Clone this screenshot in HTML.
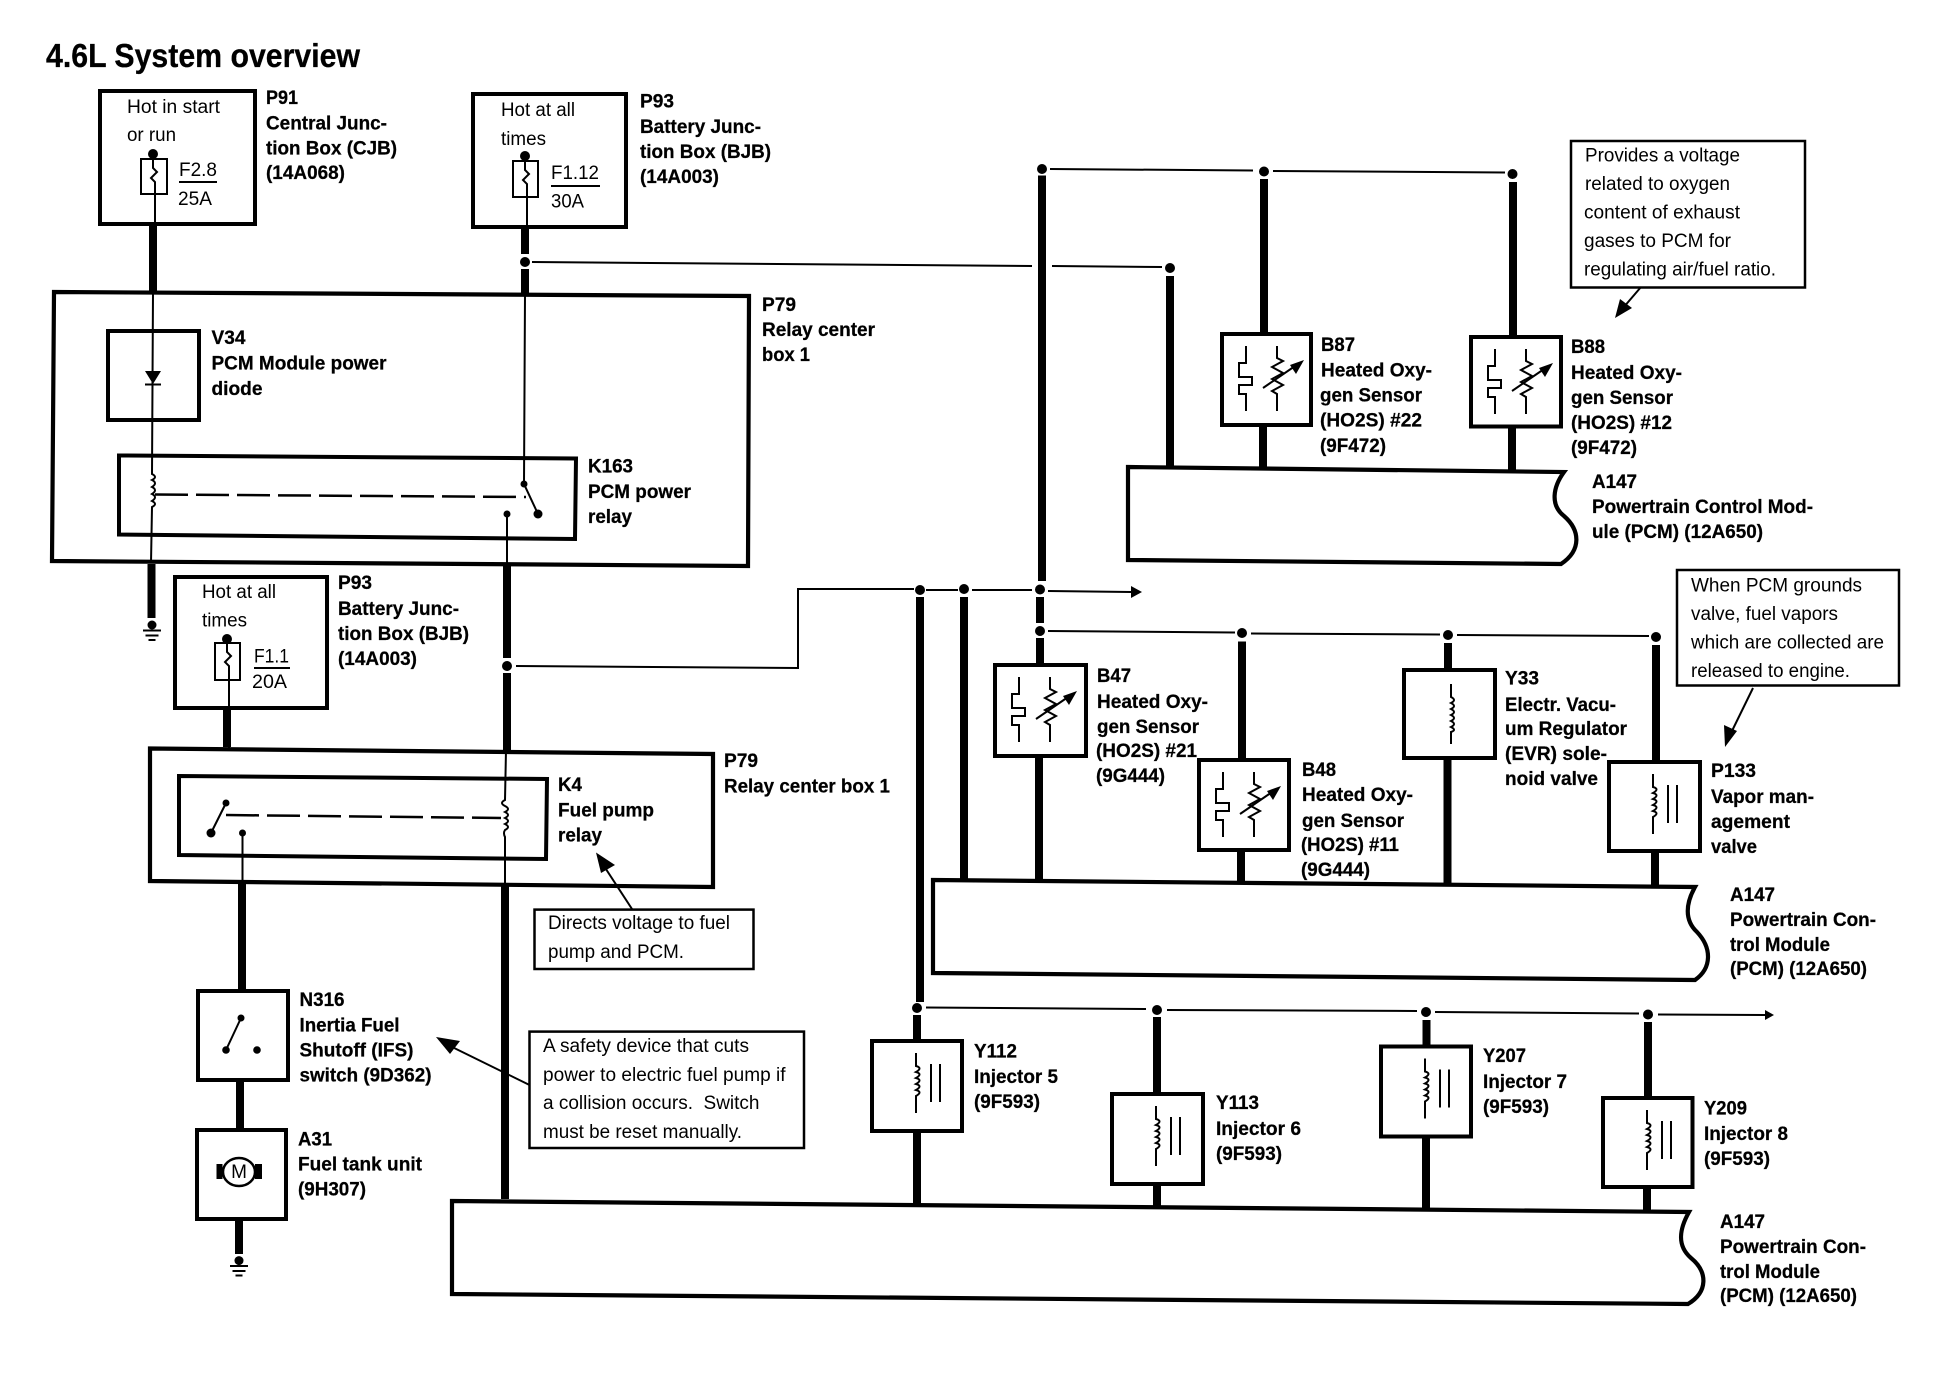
<!DOCTYPE html>
<html lang="en">
<head>
<meta charset="utf-8">
<title>4.6L System overview</title>
<style>
html,body{margin:0;padding:0;background:#fff;}
svg{display:block;}
text{font-family:"Liberation Sans",sans-serif;fill:#000;}
.b{font-size:19px;font-weight:bold;stroke:#000;stroke-width:.25;}
.r{font-size:19px;}
.t{fill:none;stroke:#000;stroke-width:2;}
.w{fill:none;stroke:#000;stroke-width:8;}
.x{fill:#fff;stroke:#000;stroke-width:4;}
.n{fill:#fff;stroke:#000;stroke-width:2.5;}
.m{fill:#fff;stroke:#000;stroke-width:4.2;}
</style>
</head>
<body>
<svg width="1940" height="1376" viewBox="0 0 1940 1376" xmlns="http://www.w3.org/2000/svg">
<defs>
<g id="sensor">
<path class="t" d="M24 12V29H17V43H30V51H17V60H24V77"/>
<path class="t" d="M55 12V24l6 3l-11 6l11 6l-11 6l11 6l-11 6l5 3V77"/>
<path class="t" d="M41 54L76 30" stroke-width="2.5"/>
<path d="M82 26L68 31L74 40Z"/>
</g>
<g id="inj">
<path class="t" d="M44 12V25q7 2 0 6q7 2 0 6q7 2 0 6q7 2 0 6q7 2 0 6V72"/>
<path class="t" d="M59 23V61M68 23V61"/>
</g>
</defs>
<rect width="1940" height="1376" fill="#fff"/>

<text x="46" y="67" font-size="33" font-weight="bold" stroke="#000" stroke-width=".3" textLength="314" lengthAdjust="spacingAndGlyphs">4.6L System overview</text>

<!-- thick wires -->
<path class="w" d="M153 224V292M525 227V254M525 269V294M151.500 564V618M507 566V658M507 673V750M505 885V1199
M1170 276V467M1042 175.500V581M1264 179V334M1513 182V337M1263 425V467.500M1512 426V470
M1040 597V623M1040 638V665M1039 756V880M1242 641.500V760M1241 850V883M1448 643V670M1447.500 758V883M1656 645V762M1655 851V885
M920 597V1002M964 597V879M917 1015V1041M917 1131V1204
M1157 1017V1094M1157 1184V1208M1426.500 1020V1047M1426 1136V1209M1648 1022V1098M1647 1187V1211
M227 708V747M242 884V990M240 1080V1130M239 1219V1254"/>

<!-- P91 -->
<rect class="x" x="100" y="91" width="155" height="133"/>
<rect x="141" y="159" width="26" height="35" fill="#fff" stroke="#000" stroke-width="2"/>
<path class="t" d="M153 154V168l4 4l-6 6l4 4V224"/>
<circle cx="153" cy="154" r="5"/>
<path class="t" d="M179 182H217"/>
<text class="r" x="127" y="113" textLength="93" lengthAdjust="spacingAndGlyphs">Hot in start</text>
<text class="r" x="127" y="141" textLength="49" lengthAdjust="spacingAndGlyphs">or run</text>
<text class="r" x="179" y="176" textLength="38" lengthAdjust="spacingAndGlyphs">F2.8</text>
<text class="r" x="178" y="205" textLength="34" lengthAdjust="spacingAndGlyphs">25A</text>
<text class="b" x="266" y="104" textLength="32" lengthAdjust="spacingAndGlyphs">P91</text>
<text class="b" x="266" y="129.500" textLength="121" lengthAdjust="spacingAndGlyphs">Central Junc-</text>
<text class="b" x="266" y="154.500" textLength="131" lengthAdjust="spacingAndGlyphs">tion Box (CJB)</text>
<text class="b" x="266" y="179" textLength="79" lengthAdjust="spacingAndGlyphs">(14A068)</text>

<!-- P93 top -->
<rect class="x" x="473" y="94" width="153" height="133"/>
<rect x="513" y="161" width="25" height="36" fill="#fff" stroke="#000" stroke-width="2"/>
<path class="t" d="M525 156V170l4 4l-6 6l4 4V227"/>
<circle cx="525" cy="156" r="5"/>
<path class="t" d="M551 186H600"/>
<text class="r" x="501" y="116" textLength="74" lengthAdjust="spacingAndGlyphs">Hot at all</text>
<text class="r" x="501" y="145" textLength="45" lengthAdjust="spacingAndGlyphs">times</text>
<text class="r" x="551" y="179" textLength="48" lengthAdjust="spacingAndGlyphs">F1.12</text>
<text class="r" x="551" y="207.500" textLength="33" lengthAdjust="spacingAndGlyphs">30A</text>
<text class="b" x="640" y="107.500" textLength="34" lengthAdjust="spacingAndGlyphs">P93</text>
<text class="b" x="640" y="133" textLength="121" lengthAdjust="spacingAndGlyphs">Battery Junc-</text>
<text class="b" x="640" y="158" textLength="131" lengthAdjust="spacingAndGlyphs">tion Box (BJB)</text>
<text class="b" x="640" y="183" textLength="79" lengthAdjust="spacingAndGlyphs">(14A003)</text>
<circle cx="525" cy="262" r="5"/>
<path class="t" d="M532 262L1032 266M1052 266L1162 267"/>
<circle cx="1170" cy="268" r="5"/>

<!-- P79 upper -->
<path class="m" d="M54 292L749 296L748 566L52 561Z"/>
<text class="b" x="762" y="311" textLength="34" lengthAdjust="spacingAndGlyphs">P79</text>
<text class="b" x="762" y="336" textLength="113" lengthAdjust="spacingAndGlyphs">Relay center</text>
<text class="b" x="762" y="361" textLength="48" lengthAdjust="spacingAndGlyphs">box 1</text>
<rect class="x" x="108" y="331" width="91" height="89"/>
<path class="x" d="M119 455.500L576 458.500L575 539L119 534.500Z"/>
<path class="t" d="M153 292L152 474q6 3 0 6q6 3 0 7q6 3 0 7q6 3 0 7q6 3 0 6L151 563"/>
<path d="M145 371H161L153 384Z"/>
<path class="t" d="M145 384.500H161"/>
<path d="M155 494.500L526 497" fill="none" stroke="#000" stroke-width="2.500" stroke-dasharray="33 8"/>
<path class="t" d="M525 294L524 484L538 514" stroke-width="2.500"/>
<circle cx="524" cy="484" r="3.500"/>
<circle cx="538" cy="514" r="4.500"/>
<circle cx="507" cy="514" r="3.500"/>
<path class="t" d="M507 514V566"/>
<text class="b" x="211.500" y="344" textLength="34" lengthAdjust="spacingAndGlyphs">V34</text>
<text class="b" x="211.500" y="369.500" textLength="175" lengthAdjust="spacingAndGlyphs">PCM Module power</text>
<text class="b" x="211.500" y="395" textLength="51" lengthAdjust="spacingAndGlyphs">diode</text>
<text class="b" x="588" y="472.600" textLength="45" lengthAdjust="spacingAndGlyphs">K163</text>
<text class="b" x="588" y="498" textLength="103" lengthAdjust="spacingAndGlyphs">PCM power</text>
<text class="b" x="588" y="523" textLength="44" lengthAdjust="spacingAndGlyphs">relay</text>
<circle cx="152" cy="625" r="4.500"/>
<path class="t" d="M143 630.500H161M145.500 635.500H158.500M148.500 640H155.500" stroke-width="2.500"/>

<!-- P93 lower -->
<rect class="x" x="175" y="577" width="152" height="131"/>
<rect x="215" y="643" width="25" height="37" fill="#fff" stroke="#000" stroke-width="2"/>
<path class="t" d="M227 639V652l4 4l-6 6l4 4V748L226 803"/>
<circle cx="227" cy="639" r="5"/>
<path class="t" d="M254 668H290"/>
<text class="r" x="202" y="598" textLength="74" lengthAdjust="spacingAndGlyphs">Hot at all</text>
<text class="r" x="202" y="626.600" textLength="45" lengthAdjust="spacingAndGlyphs">times</text>
<text class="r" x="254" y="662.600" textLength="35" lengthAdjust="spacingAndGlyphs">F1.1</text>
<text class="r" x="252" y="688" textLength="35" lengthAdjust="spacingAndGlyphs">20A</text>
<text class="b" x="338" y="589" textLength="34" lengthAdjust="spacingAndGlyphs">P93</text>
<text class="b" x="338" y="615" textLength="121" lengthAdjust="spacingAndGlyphs">Battery Junc-</text>
<text class="b" x="338" y="640" textLength="131" lengthAdjust="spacingAndGlyphs">tion Box (BJB)</text>
<text class="b" x="338" y="665" textLength="79" lengthAdjust="spacingAndGlyphs">(14A003)</text>
<circle cx="507" cy="666" r="5"/>
<path class="t" d="M516 666L798 668V589H914M926 590H958M972 590H1032M1048 591L1131 592"/>
<circle cx="920" cy="590" r="5"/>
<circle cx="964" cy="589" r="5"/>
<circle cx="1040" cy="589.500" r="5"/>
<path d="M1131 586L1142 592L1131 598Z"/>

<!-- P79 lower / K4 -->
<path class="m" d="M150 748.500L713 754L713 887L150 881Z"/>
<path class="x" d="M179 776L547 779L546 859L179 855Z"/>
<path class="t" d="M226 803L211 833" stroke-width="2.500"/>
<circle cx="226" cy="803" r="3.500"/>
<circle cx="211" cy="833" r="4.500"/>
<circle cx="242.500" cy="833" r="3.500"/>
<path class="t" d="M242.500 833V885"/>
<path d="M226 815L501 818" fill="none" stroke="#000" stroke-width="2.500" stroke-dasharray="33 8"/>
<path class="t" d="M506 750L505 800q-6 3 0 6q6 3 0 6q6 3 0 6q6 3 0 6q6 3 0 6q-2 3 0 7L505 885"/>
<text class="b" x="724" y="767" textLength="34" lengthAdjust="spacingAndGlyphs">P79</text>
<text class="b" x="724" y="792.500" textLength="166" lengthAdjust="spacingAndGlyphs">Relay center box 1</text>
<text class="b" x="558" y="791" textLength="24" lengthAdjust="spacingAndGlyphs">K4</text>
<text class="b" x="558" y="816.500" textLength="96" lengthAdjust="spacingAndGlyphs">Fuel pump</text>
<text class="b" x="558" y="841.600" textLength="44" lengthAdjust="spacingAndGlyphs">relay</text>

<!-- Directs note -->
<rect class="n" x="534.500" y="909.600" width="219" height="59.400"/>
<text class="r" x="548" y="929" textLength="182" lengthAdjust="spacingAndGlyphs">Directs voltage to fuel</text>
<text class="r" x="548" y="958" textLength="136" lengthAdjust="spacingAndGlyphs">pump and PCM.</text>
<path class="t" d="M632 909L602 863"/>
<path d="M596 852.500L615 865L601 873Z"/>

<!-- N316 -->
<rect class="x" x="198" y="991" width="90" height="89"/>
<path class="t" d="M241 1018L226 1050" stroke-width="3"/>
<circle cx="241" cy="1018" r="3.500"/>
<circle cx="226" cy="1050" r="3.800"/>
<circle cx="257" cy="1050" r="3.800"/>
<text class="b" x="299.500" y="1006" textLength="45" lengthAdjust="spacingAndGlyphs">N316</text>
<text class="b" x="299.500" y="1031.600" textLength="100" lengthAdjust="spacingAndGlyphs">Inertia Fuel</text>
<text class="b" x="299.500" y="1056.600" textLength="114" lengthAdjust="spacingAndGlyphs">Shutoff (IFS)</text>
<text class="b" x="299.500" y="1081.600" textLength="132" lengthAdjust="spacingAndGlyphs">switch (9D362)</text>

<!-- A31 -->
<rect class="x" x="197" y="1130" width="89" height="89"/>
<rect x="216.500" y="1164" width="6" height="15"/>
<rect x="255" y="1164" width="7" height="15"/>
<ellipse cx="239" cy="1172" rx="16" ry="14" fill="#fff" stroke="#000" stroke-width="2.500"/>
<text class="r" x="239" y="1178" text-anchor="middle" font-size="17">M</text>
<text class="b" x="298" y="1145.700" textLength="34" lengthAdjust="spacingAndGlyphs">A31</text>
<text class="b" x="298" y="1170.700" textLength="124" lengthAdjust="spacingAndGlyphs">Fuel tank unit</text>
<text class="b" x="298" y="1195.700" textLength="68" lengthAdjust="spacingAndGlyphs">(9H307)</text>
<circle cx="239" cy="1260.600" r="4.500"/>
<path class="t" d="M230 1266H248M232.500 1271H245.500M235.500 1275.500H242.500" stroke-width="2.500"/>

<!-- safety note -->
<rect class="n" x="529.500" y="1031.600" width="274.500" height="116.400"/>
<text class="r" x="543" y="1052" textLength="206" lengthAdjust="spacingAndGlyphs">A safety device that cuts</text>
<text class="r" x="543" y="1081" textLength="242.500" lengthAdjust="spacingAndGlyphs">power to electric fuel pump if</text>
<text class="r" x="543" y="1109" textLength="216.500" xml:space="preserve" lengthAdjust="spacingAndGlyphs">a collision occurs.  Switch</text>
<text class="r" x="543" y="1138" textLength="199" lengthAdjust="spacingAndGlyphs">must be reset manually.</text>
<path class="t" d="M529.500 1085L446 1044"/>
<path d="M436 1037L460 1041L450 1054Z"/>

<!-- Top oxygen sensors -->
<circle cx="1042" cy="169" r="5"/>
<circle cx="1264" cy="171.500" r="5"/>
<circle cx="1512.500" cy="174" r="5"/>
<path class="t" d="M1050 169L1253 170.500M1273 171L1505 172.500"/>
<rect class="x" x="1222" y="334" width="89" height="91"/>
<use href="#sensor" x="1222" y="334"/>
<rect class="x" x="1471" y="337" width="90" height="89.500"/>
<use href="#sensor" x="1471" y="337"/>
<text class="b" x="1321" y="351" textLength="34" lengthAdjust="spacingAndGlyphs">B87</text>
<text class="b" x="1321" y="376.500" textLength="111" lengthAdjust="spacingAndGlyphs">Heated Oxy-</text>
<text class="b" x="1320" y="401.500" textLength="102" lengthAdjust="spacingAndGlyphs">gen Sensor</text>
<text class="b" x="1320" y="426.500" textLength="102" lengthAdjust="spacingAndGlyphs">(HO2S) #22</text>
<text class="b" x="1320" y="452" textLength="66" lengthAdjust="spacingAndGlyphs">(9F472)</text>
<text class="b" x="1571" y="353" textLength="34" lengthAdjust="spacingAndGlyphs">B88</text>
<text class="b" x="1571" y="379" textLength="111" lengthAdjust="spacingAndGlyphs">Heated Oxy-</text>
<text class="b" x="1571" y="404" textLength="102" lengthAdjust="spacingAndGlyphs">gen Sensor</text>
<text class="b" x="1571" y="429" textLength="101" lengthAdjust="spacingAndGlyphs">(HO2S) #12</text>
<text class="b" x="1571" y="454" textLength="66" lengthAdjust="spacingAndGlyphs">(9F472)</text>

<!-- note 1 -->
<rect class="n" x="1571" y="141" width="234" height="146.500"/>
<text class="r" x="1585" y="161.500" textLength="155" lengthAdjust="spacingAndGlyphs">Provides a voltage</text>
<text class="r" x="1585" y="190" textLength="145" lengthAdjust="spacingAndGlyphs">related to oxygen</text>
<text class="r" x="1584" y="218.500" textLength="156" lengthAdjust="spacingAndGlyphs">content of exhaust</text>
<text class="r" x="1584" y="247" textLength="147" lengthAdjust="spacingAndGlyphs">gases to PCM for</text>
<text class="r" x="1584" y="275.500" textLength="192" lengthAdjust="spacingAndGlyphs">regulating air/fuel ratio.</text>
<path class="t" d="M1641 287L1623 308"/>
<path d="M1615 318L1620 299L1632 308Z"/>

<!-- A147 top -->
<path class="m" d="M1128 467L1564 472C1553 487,1550 505,1564 516C1580 530,1582 550,1561 564L1128 560Z"/>
<text class="b" x="1592" y="488" textLength="45" lengthAdjust="spacingAndGlyphs">A147</text>
<text class="b" x="1592" y="513" textLength="221" lengthAdjust="spacingAndGlyphs">Powertrain Control Mod-</text>
<text class="b" x="1592" y="538" textLength="171" lengthAdjust="spacingAndGlyphs">ule (PCM) (12A650)</text>

<!-- Mid row -->
<circle cx="1040" cy="631" r="5"/>
<circle cx="1242" cy="633" r="5"/>
<circle cx="1448" cy="635" r="5"/>
<circle cx="1656" cy="637" r="5"/>
<path class="t" d="M1048 631L1235 632.500M1251 633.500L1440 634.500M1457 635L1649 636"/>
<rect class="x" x="995" y="665" width="91" height="91"/>
<use href="#sensor" x="995" y="665"/>
<rect class="x" x="1199" y="760" width="90" height="90"/>
<use href="#sensor" x="1199" y="760"/>
<rect class="x" x="1404" y="670" width="91" height="88"/>
<path class="t" d="M1451 684V697q6 3 0 6q6 3 0 6q6 3 0 6q6 3 0 6q6 3 0 6q6 3 0 5V744"/>
<rect class="x" x="1609" y="762" width="91" height="89"/>
<use href="#inj" x="1609" y="762"/>
<text class="b" x="1097" y="682" textLength="34" lengthAdjust="spacingAndGlyphs">B47</text>
<text class="b" x="1097" y="708" textLength="111" lengthAdjust="spacingAndGlyphs">Heated Oxy-</text>
<text class="b" x="1097" y="733" textLength="102" lengthAdjust="spacingAndGlyphs">gen Sensor</text>
<text class="b" x="1096" y="757" textLength="101" lengthAdjust="spacingAndGlyphs">(HO2S) #21</text>
<text class="b" x="1096" y="782" textLength="69" lengthAdjust="spacingAndGlyphs">(9G444)</text>
<text class="b" x="1302" y="776" textLength="34" lengthAdjust="spacingAndGlyphs">B48</text>
<text class="b" x="1302" y="801" textLength="111" lengthAdjust="spacingAndGlyphs">Heated Oxy-</text>
<text class="b" x="1302" y="827" textLength="102" lengthAdjust="spacingAndGlyphs">gen Sensor</text>
<text class="b" x="1301" y="851" textLength="98" lengthAdjust="spacingAndGlyphs">(HO2S) #11</text>
<text class="b" x="1301" y="876" textLength="69" lengthAdjust="spacingAndGlyphs">(9G444)</text>
<text class="b" x="1505" y="684.500" textLength="34" lengthAdjust="spacingAndGlyphs">Y33</text>
<text class="b" x="1505" y="711" textLength="111" lengthAdjust="spacingAndGlyphs">Electr. Vacu-</text>
<text class="b" x="1505" y="735" textLength="122" lengthAdjust="spacingAndGlyphs">um Regulator</text>
<text class="b" x="1505" y="760" textLength="102" lengthAdjust="spacingAndGlyphs">(EVR) sole-</text>
<text class="b" x="1505" y="785" textLength="93" lengthAdjust="spacingAndGlyphs">noid valve</text>
<text class="b" x="1711" y="777" textLength="45" lengthAdjust="spacingAndGlyphs">P133</text>
<text class="b" x="1711" y="803" textLength="103" lengthAdjust="spacingAndGlyphs">Vapor man-</text>
<text class="b" x="1711" y="828" textLength="79" lengthAdjust="spacingAndGlyphs">agement</text>
<text class="b" x="1711" y="853" textLength="46" lengthAdjust="spacingAndGlyphs">valve</text>

<!-- note 2 -->
<rect class="n" x="1677" y="570" width="222" height="115.500"/>
<text class="r" x="1691" y="591.500" textLength="171" lengthAdjust="spacingAndGlyphs">When PCM grounds</text>
<text class="r" x="1691" y="620" textLength="147" lengthAdjust="spacingAndGlyphs">valve, fuel vapors</text>
<text class="r" x="1691" y="648.500" textLength="193" lengthAdjust="spacingAndGlyphs">which are collected are</text>
<text class="r" x="1691" y="677" textLength="159" lengthAdjust="spacingAndGlyphs">released to engine.</text>
<path class="t" d="M1753 688L1730 735"/>
<path d="M1725 747L1724 725L1737 731Z"/>

<!-- A147 mid -->
<path class="m" d="M933 880L1695 887C1686 903,1684 920,1697 932C1712 948,1712 968,1695 980L933 973Z"/>
<text class="b" x="1730" y="901" textLength="45" lengthAdjust="spacingAndGlyphs">A147</text>
<text class="b" x="1730" y="926" textLength="146" lengthAdjust="spacingAndGlyphs">Powertrain Con-</text>
<text class="b" x="1730" y="951" textLength="100" lengthAdjust="spacingAndGlyphs">trol Module</text>
<text class="b" x="1730" y="975" textLength="137" lengthAdjust="spacingAndGlyphs">(PCM) (12A650)</text>

<!-- Injectors -->
<circle cx="917" cy="1008" r="5"/>
<circle cx="1157" cy="1010" r="5"/>
<circle cx="1426" cy="1012" r="5"/>
<circle cx="1648" cy="1014.500" r="5"/>
<path class="t" d="M926 1007.500L1146 1009M1167 1010L1417 1011M1435 1012L1639 1013.500M1658 1014.500L1765 1015"/>
<path d="M1765 1010L1774 1015L1765 1020Z"/>
<rect class="x" x="872" y="1041" width="90" height="90"/>
<use href="#inj" x="872" y="1041"/>
<rect class="x" x="1112" y="1094" width="91" height="90"/>
<use href="#inj" x="1112" y="1094"/>
<rect class="x" x="1381" y="1046.500" width="90" height="90"/>
<use href="#inj" x="1381" y="1046.500"/>
<rect class="x" x="1603" y="1098" width="89.500" height="89"/>
<use href="#inj" x="1603" y="1098"/>
<text class="b" x="974" y="1057.500" textLength="43" lengthAdjust="spacingAndGlyphs">Y112</text>
<text class="b" x="974" y="1083" textLength="84" lengthAdjust="spacingAndGlyphs">Injector 5</text>
<text class="b" x="974" y="1108" textLength="66" lengthAdjust="spacingAndGlyphs">(9F593)</text>
<text class="b" x="1216" y="1109" textLength="43" lengthAdjust="spacingAndGlyphs">Y113</text>
<text class="b" x="1216" y="1135" textLength="85" lengthAdjust="spacingAndGlyphs">Injector 6</text>
<text class="b" x="1216" y="1160" textLength="66" lengthAdjust="spacingAndGlyphs">(9F593)</text>
<text class="b" x="1483" y="1062" textLength="43" lengthAdjust="spacingAndGlyphs">Y207</text>
<text class="b" x="1483" y="1088" textLength="84" lengthAdjust="spacingAndGlyphs">Injector 7</text>
<text class="b" x="1483" y="1113" textLength="66" lengthAdjust="spacingAndGlyphs">(9F593)</text>
<text class="b" x="1704" y="1114.500" textLength="43" lengthAdjust="spacingAndGlyphs">Y209</text>
<text class="b" x="1704" y="1140" textLength="84" lengthAdjust="spacingAndGlyphs">Injector 8</text>
<text class="b" x="1704" y="1165" textLength="66" lengthAdjust="spacingAndGlyphs">(9F593)</text>

<!-- A147 bottom -->
<path class="m" d="M452 1201L1689 1212C1680 1228,1676 1245,1691 1258C1708 1272,1708 1292,1688 1304L452 1294Z"/>
<text class="b" x="1720" y="1228" textLength="45" lengthAdjust="spacingAndGlyphs">A147</text>
<text class="b" x="1720" y="1253" textLength="146" lengthAdjust="spacingAndGlyphs">Powertrain Con-</text>
<text class="b" x="1720" y="1278" textLength="100" lengthAdjust="spacingAndGlyphs">trol Module</text>
<text class="b" x="1720" y="1302" textLength="137" lengthAdjust="spacingAndGlyphs">(PCM) (12A650)</text>
</svg>
</body>
</html>
